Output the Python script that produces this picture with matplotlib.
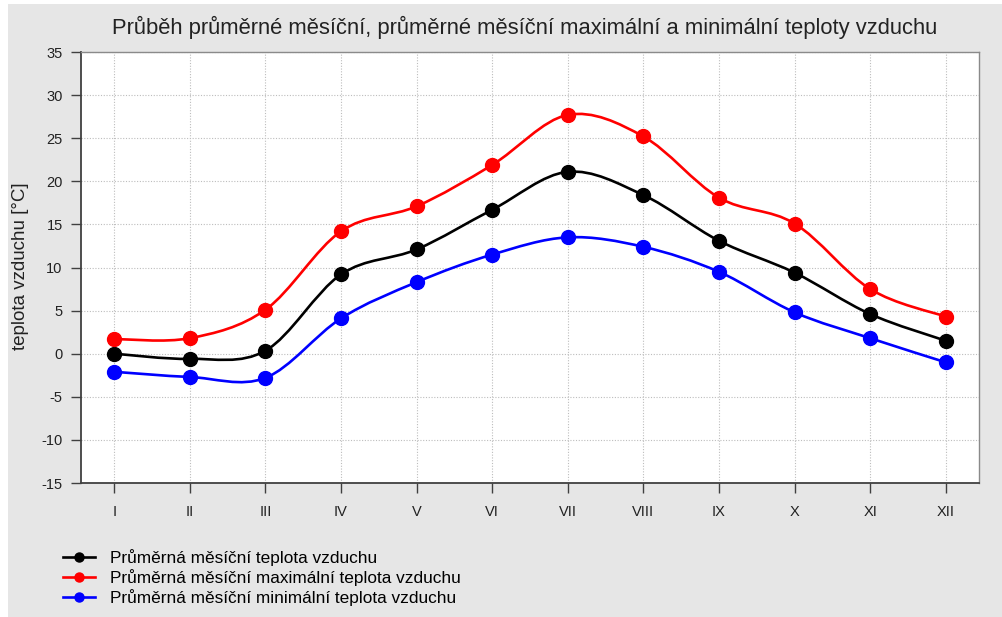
import matplotlib
matplotlib.use("Agg")
import matplotlib.pyplot as plt
import numpy as np
from matplotlib.path import Path
from matplotlib.patches import PathPatch, Rectangle
from matplotlib.lines import Line2D

plt.rcParams['font.family'] = ['Liberation Sans', 'DejaVu Sans']
plt.rcParams['axes.unicode_minus'] = False

months = ["I", "II", "III", "IV", "V", "VI", "VII", "VIII", "IX", "X", "XI", "XII"]
avg_temp = [0.0, -0.6, 0.35, 9.2, 12.1, 16.7, 21.1, 18.4, 13.1, 9.4, 4.6, 1.5]
max_temp = [1.7, 1.8, 5.1, 14.2, 17.1, 21.9, 27.7, 25.2, 18.1, 15.1, 7.5, 4.3]
min_temp = [-2.1, -2.7, -2.8, 4.1, 8.3, 11.5, 13.5, 12.4, 9.5, 4.8, 1.8, -1.0]
labels = ["Průměrná měsíční teplota vzduchu",
          "Průměrná měsíční maximální teplota vzduchu",
          "Průměrná měsíční minimální teplota vzduchu"]
colors = ["#000000", "#ff0000", "#0000ff"]
title = "Průběh průměrné měsíční, průměrné měsíční maximální a minimální teploty vzduchu"
ylabel = "teplota vzduchu [°C]"
yticks = list(range(-15, 36, 5))

W, H = 1003, 617
fig = plt.figure(figsize=(W / 100, H / 100), dpi=100, facecolor="white")
fig.patches.append(Rectangle((8 / W, 0), 1 - 8 / W, 1 - 4 / H, transform=fig.transFigure,
                             facecolor="#e6e6e6", edgecolor="none", zorder=-10))

ax = fig.add_axes([81 / W, (H - 483) / H, 898 / W, 431 / H])
ax.set_facecolor("white")
x = np.arange(1, 13)


def smooth_path(xs, ys):
    pts = np.column_stack([xs, ys]).astype(float)
    n = len(pts)
    verts = [pts[0]]
    codes = [Path.MOVETO]
    for i in range(n - 1):
        p0 = pts[i - 1] if i > 0 else pts[i]
        p1 = pts[i]
        p2 = pts[i + 1]
        p3 = pts[i + 2] if i + 2 < n else pts[i + 1]
        c1 = p1 + (p2 - p0) / 6.0
        c2 = p2 - (p3 - p1) / 6.0
        verts += [c1, c2, p2]
        codes += [Path.CURVE4] * 3
    return Path(verts, codes)


for ys, c in zip([avg_temp, max_temp, min_temp], colors):
    ax.add_patch(PathPatch(smooth_path(x, ys), facecolor="none", edgecolor=c, lw=1.9,
                           zorder=3, capstyle="round", joinstyle="round"))
    ax.plot(x, ys, linestyle="none", marker="o", markersize=10, color=c, zorder=4)

ax.set_xlim(0.56, 12.44)
ax.set_ylim(-15, 35)
ax.set_xticks(x)
ax.set_xticklabels(months)
ax.set_yticks(yticks)
ax.grid(True, linestyle=(0, (1, 1.5)), color="#bdbdbd", linewidth=0.8)
ax.set_axisbelow(True)
for s in ["left", "bottom"]:
    ax.spines[s].set_color("#404040")
    ax.spines[s].set_linewidth(1.3)
for s in ["top", "right"]:
    ax.spines[s].set_color("#8a8a8a")
    ax.spines[s].set_linewidth(1.0)
ax.tick_params(axis="both", length=7.2, width=1.0, color="#404040", labelsize=10.5,
               labelcolor="#222222")
ax.tick_params(axis="y", pad=6)
ax.tick_params(axis="x", pad=9)

fig.text(525 / W, 1 - 27 / H, title, ha="center", va="center", fontsize=15.8, color="#222222")
fig.text(21 / W, 1 - 266 / H, ylabel, ha="center", va="center", rotation=90, fontsize=13.5,
         color="#222222")

handles = [Line2D([], [], color=c, lw=1.9, marker="o", markersize=6.5) for c in colors]
fig.legend(handles, labels, loc="upper left", bbox_to_anchor=(63 / W, 1 - 549 / H),
           frameon=False, fontsize=12.4, handlelength=1.86, handletextpad=0.87,
           labelspacing=0.17, borderpad=0, borderaxespad=0)

fig.savefig("out.png", dpi=100, facecolor=fig.get_facecolor())
